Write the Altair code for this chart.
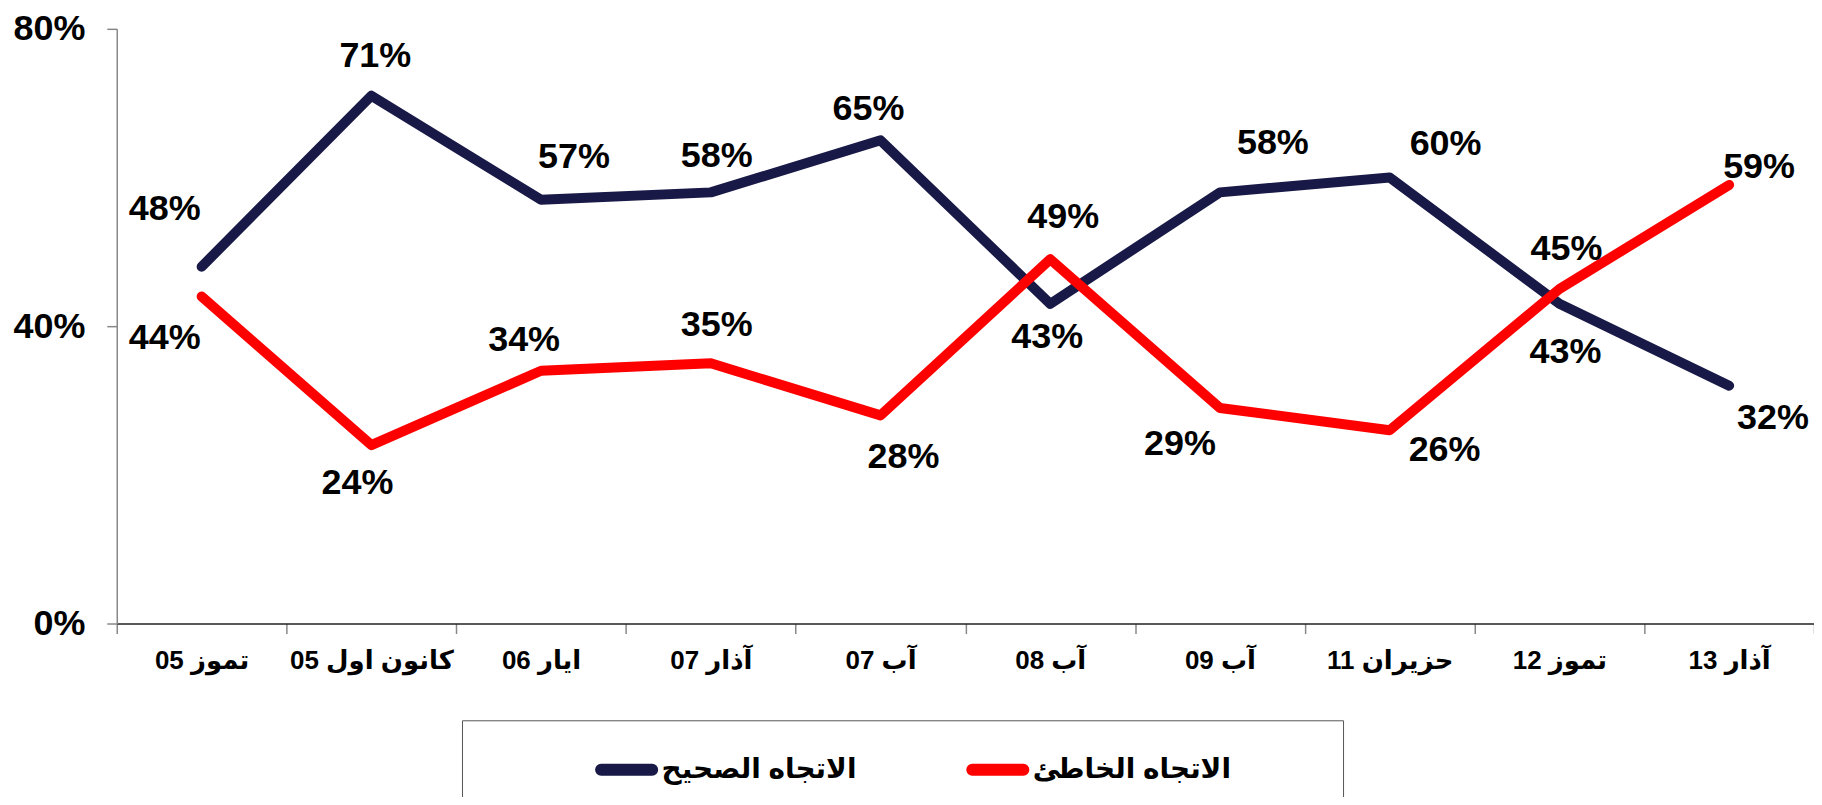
import altair as alt
import pandas as pd

# ---- data ----
categories = ["تموز 05", "كانون اول 05", "ايار 06", "آذار 07", "آب 07",
              "آب 08", "آب 09", "حزيران 11", "تموز 12", "آذار 13"]
series_names = ["الاتجاه الصحيح", "الاتجاه الخاطئ"]
right_direction = [48, 71, 57, 58, 65, 43, 58, 60, 43, 32]
wrong_direction = [44, 24, 34, 35, 28, 49, 29, 26, 45, 59]
y_ticks = [0, 40, 80]

# ---- styles ----
series_colors = ["#191947", "#ff0000"]
FONT = "Liberation Sans, Arial, DejaVu Sans, sans-serif"
# label offsets (dx, dy) in pixels relative to each point
right_label_offsets = [(-37, -58), (4, -40), (33, -43), (6, -36), (-12, -31),
                       (-3, 33), (53, -49), (56, -34), (6, 48), (44, 32)]
wrong_label_offsets = [(-37, 42), (-14, 38), (-17, -31), (6, -38), (23, 42),
                       (13, -42), (-40, 36), (55, 20), (7, -40), (30, -18)]

rows = []
for s_i, (name, vals) in enumerate(zip(series_names, [right_direction, wrong_direction])):
    for c_i, (cat, v) in enumerate(zip(categories, vals)):
        rows.append({"cat": cat, "series": name, "value": v,
                     "label": f"{v}%", "key": f"{s_i}_{c_i}"})
df = pd.DataFrame(rows)

x_enc = alt.X(
    "cat:N", sort=categories,
    scale=alt.Scale(type="band", paddingInner=0, paddingOuter=0),
    axis=alt.Axis(title=None, labelAngle=0, tickBand="extent", grid=False,
                  tickSize=10, tickColor="#888888", tickWidth=1.5,
                  domainColor="#222222", domainWidth=1.5,
                  labelFont=FONT, labelFontSize=26, labelFontWeight="bold",
                  labelColor="black", labelPadding=14, labelLimit=400,
                  labelExpr="'\u202b' + datum.label + '\u202c'"),
)
y_enc = alt.Y(
    "value:Q", scale=alt.Scale(domain=[0, 80]),
    axis=alt.Axis(title=None, values=y_ticks, grid=False,
                  labelExpr="datum.value + '%'",
                  tickSize=10, tickColor="#888888", tickWidth=1.5,
                  domainColor="#888888", domainWidth=1.5,
                  labelFont=FONT, labelFontSize=36, labelFontWeight="bold",
                  labelColor="black", labelPadding=22),
)

pill = ("M -0.8 -0.094 L 0.8 -0.094 A 0.094 0.094 0 0 1 0.8 0.094 "
        "L -0.8 0.094 A 0.094 0.094 0 0 1 -0.8 -0.094 Z")

# blank spacing (em spaces kept from trimming by zero-width marks) to widen the legend frame
left_gap = "\u200b" + "\u2003" * 3 + "\u200b"
right_gap = "\u2003" * 3 + "\u2002" + "\u200b"
last_name = series_names[-1]
legend = alt.Legend(
    orient="none", legendX=346, legendY=693, direction="horizontal",
    title=left_gap, titleOrient="left", titleFontSize=27, titlePadding=35,
    padding=14, strokeColor="#555555", fillColor="white",
    labelFont=FONT, labelFontSize=28, labelFontWeight="bold", labelColor="black",
    labelLimit=600, labelOffset=0, columnPadding=100,
    symbolType=pill, symbolSize=4096, symbolStrokeWidth=6,
    labelExpr=f"datum.value == '{last_name}' ? datum.label + '{right_gap}' : datum.label",
)

lines = alt.Chart(df).mark_line(strokeWidth=10, strokeCap="round", strokeJoin="round").encode(
    x=x_enc, y=y_enc,
    color=alt.Color("series:N", sort=series_names,
                    scale=alt.Scale(domain=series_names, range=series_colors),
                    legend=legend),
)

layers = [lines]
for s_i, offsets in enumerate([right_label_offsets, wrong_label_offsets]):
    for c_i, (dx, dy) in enumerate(offsets):
        layers.append(
            alt.Chart(df).transform_filter(alt.datum.key == f"{s_i}_{c_i}")
            .mark_text(dx=dx, dy=dy, font=FONT, fontSize=36, fontWeight="bold",
                       color="black", baseline="middle", align="center")
            .encode(x=alt.X("cat:N", sort=categories), y="value:Q", text="label:N")
        )

chart = alt.layer(*layers).properties(
    width=1701, height=596,
    autosize=alt.AutoSizeParams(type="none"),
    padding={"left": 109, "top": 20, "right": 0, "bottom": 173},
).configure_view(stroke=None)

chart.save("out.html", embed_options={"renderer": "svg", "actions": False})
